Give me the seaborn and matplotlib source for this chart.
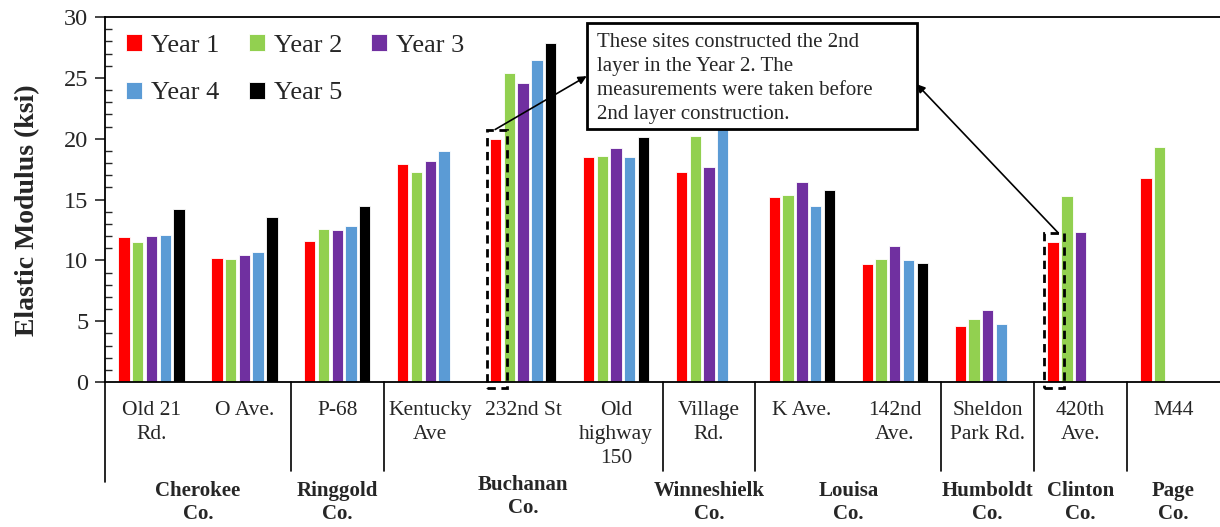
import numpy as np
import pandas as pd
import matplotlib
matplotlib.use('Agg')
import matplotlib.pyplot as plt
import matplotlib.transforms as mtransforms
from matplotlib.patches import Rectangle
import seaborn as sns

# Data
sites = ['Old 21\nRd.', 'O Ave.', 'P-68', 'Kentucky\nAve', '232nd St', 'Old\nhighway\n150',
         'Village\nRd.', 'K Ave.', '142nd\nAve.', 'Sheldon\nPark Rd.', '420th\nAve.', 'M44']
years = ['Year 1', 'Year 2', 'Year 3', 'Year 4', 'Year 5']
year1 = [11.9, 10.2, 11.6, 17.9, 20.0, 18.5, 17.3, 15.2, 9.7, 4.6, 11.5, 16.8]
year2 = [11.5, 10.1, 12.6, 17.3, 25.4, 18.6, 20.2, 15.4, 10.1, 5.2, 15.3, 19.3]
year3 = [12.0, 10.4, 12.5, 18.2, 24.6, 19.2, 17.7, 16.4, 11.2, 5.9, 12.3, np.nan]
year4 = [12.1, 10.7, 12.8, 19.0, 26.5, 18.5, 21.5, 14.5, 10.0, 4.8, np.nan, np.nan]
year5 = [14.2, 13.6, 14.5, np.nan, 27.9, 20.1, np.nan, 15.8, 9.8, np.nan, np.nan, np.nan]
counties = ['Cherokee\nCo.', 'Ringgold\nCo.', 'Buchanan\nCo.', 'Winneshielk\nCo.',
            'Louisa\nCo.', 'Humboldt\nCo.', 'Clinton\nCo.', 'Page\nCo.']
county_sites = [(0, 1), (2, 2), (3, 5), (6, 6), (7, 8), (9, 9), (10, 10), (11, 11)]
marked_sites = [4, 10]  # sites built 2nd layer in year 2
colors = ['#FF0000', '#92D050', '#7030A0', '#5B9BD5', '#000000']

rows = []
for yr, vals in zip(years, [year1, year2, year3, year4, year5]):
    for s, v in zip(sites, vals):
        rows.append({'Site': s, 'Year': yr, 'Modulus': v})
df = pd.DataFrame(rows).dropna()

sns.set_style('ticks')
plt.rcParams['font.family'] = ['Liberation Serif', 'DejaVu Serif']

fig = plt.figure(figsize=(12.2, 5.27), dpi=100)
ax = fig.add_axes([105 / 1220, 145 / 527, 1115 / 1220, 365 / 527])

sns.barplot(data=df, x='Site', y='Modulus', hue='Year', order=sites, hue_order=years,
            palette=colors, saturation=1, errorbar=None, width=0.74, gap=0.18,
            edgecolor='white', linewidth=0.6, ax=ax, zorder=2)

ax.set_xlim(-0.5, len(sites) - 0.5)
ax.set_ylim(0, 30)
ax.set_yticks(np.arange(0, 31, 5))
ax.set_yticks(np.arange(0, 31, 1), minor=True)
ax.tick_params(axis='y', which='major', direction='out', length=7, width=1.2, labelsize=17.5, pad=5)
ax.tick_params(axis='y', which='minor', direction='in', length=5, width=1.0)
ax.tick_params(axis='x', length=0, labelsize=15.5, pad=14)
for lbl in ax.get_xticklabels():
    lbl.set_linespacing(1.34)
ax.set_xlabel('')
ax.set_ylabel('Elastic Modulus (ksi)', fontsize=20, fontweight='bold')
ax.yaxis.set_label_coords(-0.058, 0.47)
for side in ['left', 'bottom', 'top']:
    ax.spines[side].set_color('black')
    ax.spines[side].set_linewidth(1.3)
ax.spines['right'].set_visible(False)

# county separators and labels below the axis
trans = mtransforms.blended_transform_factory(ax.transData, ax.transAxes)
seps = [-0.5] + [end + 0.5 for _, end in county_sites[:-1]]
for i, xs in enumerate(seps):
    ax.plot([xs, xs], [0, -0.275 if i == 0 else -0.244], color='black', lw=1.2,
            transform=trans, clip_on=False)
for name, (a, b) in zip(counties, county_sites):
    ypos = -0.315 if name.startswith('Buchanan') else -0.33
    ax.text((a + b) / 2, ypos, name, transform=trans, ha='center', va='center',
            fontsize=15, fontweight='bold', linespacing=1.2)

# legend, filled row by row
handles, labels = ax.get_legend_handles_labels()
order = [0, 3, 1, 4, 2]
ax.legend([handles[i] for i in order], [labels[i] for i in order],
          loc='upper left', bbox_to_anchor=(0.012, 0.975), ncol=3, frameon=False,
          fontsize=19, handlelength=0.6, handleheight=0.6, handletextpad=0.35,
          columnspacing=1.1, labelspacing=0.95, borderaxespad=0, borderpad=0.3)

# annotation box
box = Rectangle((0.432, 0.693), 0.296, 0.291, transform=ax.transAxes, facecolor='white',
                edgecolor='black', lw=2, zorder=5)
ax.add_patch(box)
ax.text(0.441, 0.955, 'These sites constructed the 2nd\nlayer in the Year 2. The\n'
        'measurements were taken before\n2nd layer construction.',
        transform=ax.transAxes, ha='left', va='top', fontsize=15, linespacing=1.34, zorder=6)

# dashed boxes around the marked red bars and arrows to the note
red_bars = ax.containers[0]
heads = [(0.432, 0.838), (0.728, 0.816)]
for k, (site, head) in enumerate(zip(marked_sites, heads)):
    bar = min(red_bars, key=lambda p: abs(p.get_x() + p.get_width() / 2 - site))
    x0 = bar.get_x() - 0.035
    x1 = bar.get_x() + bar.get_width() + 0.06
    y1 = bar.get_height() + 0.75
    ax.add_patch(Rectangle((x0, -0.5), x1 - x0, y1 + 0.5, fill=False, edgecolor='black',
                           lw=2, ls=(0, (3, 2)), clip_on=False, zorder=4))
    tail_x = x0 + 0.09 if k == 0 else x0 + 0.7 * (x1 - x0)
    ax.annotate('', xy=head, xycoords='axes fraction', xytext=(tail_x, y1),
                textcoords='data',
                arrowprops=dict(arrowstyle='-|>', color='black', lw=1.2,
                                mutation_scale=12, shrinkA=0, shrinkB=0), zorder=6)

fig.savefig('out.png', dpi=100)
